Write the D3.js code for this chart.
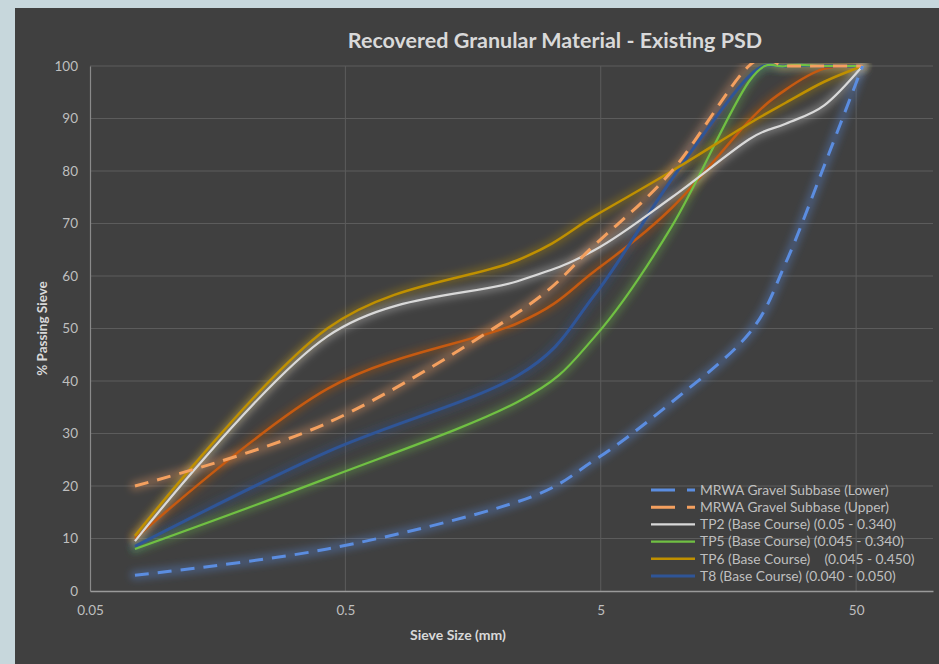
<!DOCTYPE html>
<html><head><meta charset="utf-8">
<script src="https://cdn.jsdelivr.net/npm/d3@7"></script>
<style>
html,body{margin:0;padding:0;background:#c7d7dc;}
svg{display:block;}
text{font-family:Lato,"Open Sans",sans-serif;}
</style></head><body>
<svg id="c" width="939" height="664"></svg>
<script>
// ---- data ----
const sieves = [0.075, 0.425, 2.36, 4.75, 9.5, 19, 26.5, 37.5, 53];
const lowerLimit = [3, 8, 17, 25, 36, 49, 62.5, 81, 100];
const upperLimit = [20, 32, 53, 66, 80, 100, 100, 100, 100];
const tp2 = [9.5, 48.5, 59, 65, 75, 86, 89, 92.5, 100];
const tp5 = [8, 21.5, 36, 48.5, 69.5, 97, 100, 100, 100];
const tp6 = [10.5, 50, 63, 71.5, 80, 89, 93, 97, 100];
const t8 = [8.5, 26.5, 41, 56.5, 78.5, 98, 100, 100, 100];
const otherSample = [10, 38.5, 51, 61, 73, 89.5, 95.5, 99.5, 100];
const xTicks = [0.05, 0.5, 5, 50];
const yTicks = [0,10,20,30,40,50,60,70,80,90,100];
const seriesNames = ["MRWA Gravel Subbase (Lower)", "MRWA Gravel Subbase (Upper)",
  "TP2 (Base Course) (0.05 - 0.340)", "TP5 (Base Course) (0.045 - 0.340)",
  "TP6 (Base Course)    (0.045 - 0.450)", "T8 (Base Course) (0.040 - 0.050)"];
const titleText = "Recovered Granular Material - Existing PSD";

const series = [
  {name:null, values:otherSample, color:"#c55a11", dash:null, w:2.5},
  {name:seriesNames[5], values:t8, color:"#2f5597", dash:null, w:3},
  {name:seriesNames[3], values:tp5, color:"#70c043", dash:null, w:2.2},
  {name:seriesNames[4], values:tp6, color:"#bf9000", dash:null, w:2.5},
  {name:seriesNames[2], values:tp2, color:"#d9d9d9", dash:null, w:2.2},
  {name:seriesNames[1], values:upperLimit, color:"#f4a05f", dash:"14,9", w:3},
  {name:seriesNames[0], values:lowerLimit, color:"#5b8de0", dash:"14,9", w:3},
];
const legendOrder = [6,5,4,2,3,1];

const svg = d3.select("#c");
const defs = svg.append("defs");
defs.append("filter").attr("id","glow").attr("x","-20%").attr("y","-20%").attr("width","140%").attr("height","140%")
  .append("feGaussianBlur").attr("stdDeviation",3.5);
defs.append("clipPath").attr("id","clip").append("rect")
  .attr("x",88).attr("y",63).attr("width",848).attr("height",530);

// chart area background
svg.append("rect").attr("x",15).attr("y",8).attr("width",930).attr("height",670).attr("fill","#404040");

const L=90, R=933, T=66, B=591;
const x = d3.scaleLog().domain([0.05,100]).range([L,R]);
const y = d3.scaleLinear().domain([0,100]).range([B,T]);

// gridlines
svg.append("g").selectAll("line").data(yTicks.filter(d=>d>0)).join("line")
  .attr("x1",L).attr("x2",R).attr("y1",d=>y(d)).attr("y2",d=>y(d))
  .attr("stroke","#5c5c5c").attr("stroke-width",1);
svg.append("g").selectAll("line").data(xTicks.filter(d=>d>0.05)).join("line")
  .attr("x1",d=>x(d)).attr("x2",d=>x(d)).attr("y1",T).attr("y2",B)
  .attr("stroke","#5c5c5c").attr("stroke-width",1);

// axes
const yAxis = d3.axisLeft(y).tickValues(yTicks).tickSize(0).tickPadding(12).tickFormat(d3.format("d"));
const gy = svg.append("g").attr("transform",`translate(${L},0)`).call(yAxis);
gy.select(".domain").attr("stroke","#8a8a8a").attr("stroke-width",1.2);
gy.selectAll("text").attr("fill","#bfbfbf").attr("font-size",13.5);

const xAxis = d3.axisBottom(x).tickValues(xTicks).tickSize(0).tickPadding(14).tickFormat(d=>String(d));
const gx = svg.append("g").attr("transform",`translate(0,${B})`).call(xAxis);
gx.select(".domain").attr("stroke","#9a9a9a").attr("stroke-width",1.5);
gx.selectAll("text").attr("fill","#bfbfbf").attr("font-size",13.5);

// titles
svg.append("text").attr("x",555).attr("y",48).attr("text-anchor","middle")
  .attr("font-size",21.5).attr("font-weight","bold").attr("fill","#d9d9d9").text(titleText);
svg.append("text").attr("x",458).attr("y",640).attr("text-anchor","middle")
  .attr("font-size",14).attr("font-weight","bold").attr("fill","#d9d9d9").text("Sieve Size (mm)");
svg.append("text").attr("transform",`translate(47,${(T+B)/2}) rotate(-90)`).attr("text-anchor","middle")
  .attr("font-size",13.5).attr("font-weight","bold").attr("fill","#d9d9d9").text("% Passing Sieve");

// lines
const line = d3.line().x((d,i)=>x(sieves[i])).y(d=>y(d)).curve(d3.curveCardinal.tension(0));
const plot = svg.append("g").attr("clip-path","url(#clip)");
series.forEach(s=>{
  plot.append("path").attr("d",line(s.values)).attr("fill","none")
    .attr("stroke",s.color).attr("stroke-width",s.w+7).attr("stroke-opacity",0.32)
    .attr("stroke-linecap","round").attr("filter","url(#glow)");
});
series.forEach(s=>{
  plot.append("path").attr("d",line(s.values)).attr("fill","none")
    .attr("stroke",s.color).attr("stroke-width",s.w)
    .attr("stroke-dasharray",s.dash).attr("stroke-linejoin","round");
});

// legend
const lg = svg.append("g");
legendOrder.forEach((si,i)=>{
  const s = series[si];
  const yy = 490 + i*17.2;
  lg.append("line").attr("x1",651).attr("x2",695).attr("y1",yy).attr("y2",yy)
    .attr("stroke",s.color).attr("stroke-width",s.w+6).attr("stroke-opacity",0.3).attr("filter","url(#glow)");
  lg.append("line").attr("x1",651).attr("x2",695).attr("y1",yy).attr("y2",yy)
    .attr("stroke",s.color).attr("stroke-width",s.w)
    .attr("stroke-dasharray",s.dash?"24,12":null);
  lg.append("text").attr("x",700).attr("y",yy).attr("dy","0.35em")
    .attr("font-size",13.8).attr("fill","#bfbfbf").style("white-space","pre").text(s.name);
});
</script></body></html>
